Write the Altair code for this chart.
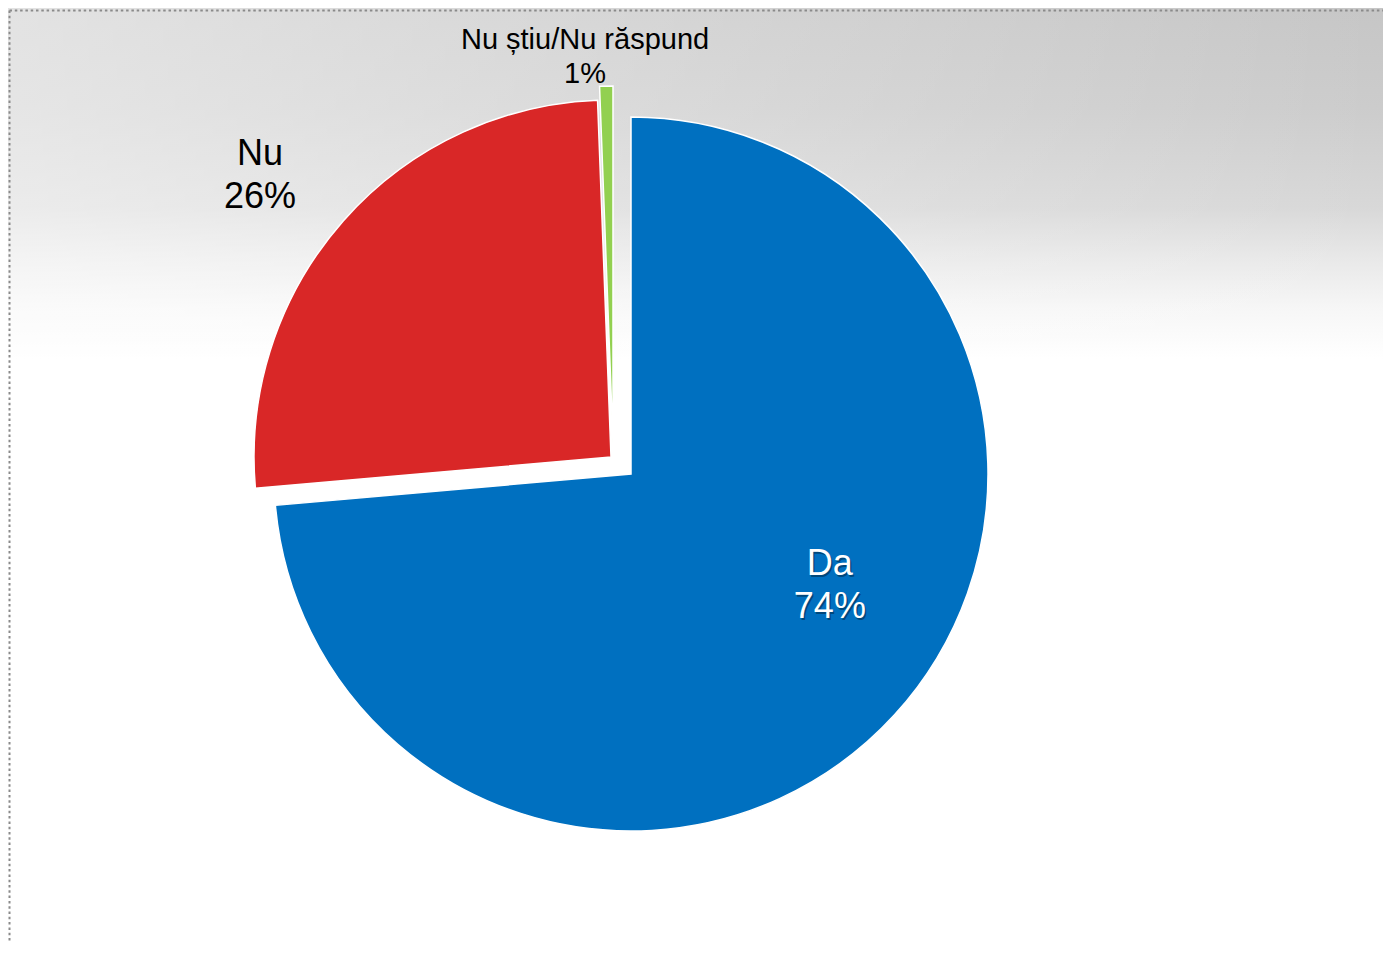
import altair as alt
import pandas as pd

# ---- data ----
categories = ["Da", "Nu", "Nu știu/Nu răspund"]
values = [73.6, 25.8, 0.6]
order = [0, 1, 2]
slice_colors = ["#0070C0", "#D92727", "#92D050"]

df = pd.DataFrame({"cat": categories, "value": values, "order": order})

# ---- layout / style constants ----
W, H = 1375, 935
CX, CY = 623, 466
R = 357
# explosion offsets of each slice (pixels)
EXPLODE_DX = {"Da": 0, "Nu": -20, "Nu știu/Nu răspund": -18}
EXPLODE_DY = {"Da": 0, "Nu": -17, "Nu știu/Nu răspund": -31}
# label placement: (angle offset from slice middle in degrees, distance from pie centre)
LABEL_ANGLE = {"Da": -13.2, "Nu": -2.6, "Nu știu/Nu răspund": -5.2}
LABEL_DIST = {"Da": 228, "Nu": 476, "Nu știu/Nu răspund": 420}
FONT = "Liberation Sans"


def case(d):
    expr = "0"
    for k, v in d.items():
        expr = f"datum.cat === '{k}' ? {v} : ({expr})"
    return expr


base = (
    alt.Chart(df)
    .transform_joinaggregate(total="sum(value)")
    .transform_window(cum="sum(value)", sort=[alt.SortField("order")], frame=[None, 0])
    .transform_calculate(
        t1="2*PI*datum.cum/datum.total",
        t0="2*PI*(datum.cum-datum.value)/datum.total",
    )
    .transform_calculate(
        mid="(datum.t0+datum.t1)/2",
        exx=case(EXPLODE_DX),
        exy=case(EXPLODE_DY),
        la=case(LABEL_ANGLE),
        lr=case(LABEL_DIST),
    )
    .transform_calculate(
        px=f"{CX}+datum.exx",
        py=f"{CY}+datum.exy",
        lx=f"{CX}+datum.lr*sin(datum.mid+datum.la*PI/180)",
        ly=f"{CY}-datum.lr*cos(datum.mid+datum.la*PI/180)",
        label="datum.cat + '\\n' + format(datum.value, '.0f') + '%'",
    )
)

# ---- background ----
bgdata = alt.Chart(pd.DataFrame({"a": [0]}))
vgrad = alt.LinearGradient(
    gradient="linear",
    x1=0, y1=0, x2=0, y2=1,
    stops=[
        alt.GradientStop(color="#c6c6c6", offset=0),
        alt.GradientStop(color="#cccccc", offset=0.107),
        alt.GradientStop(color="#d8d8d8", offset=0.214),
        alt.GradientStop(color="#e8e8e8", offset=0.267),
        alt.GradientStop(color="#f6f6f6", offset=0.32),
        alt.GradientStop(color="#ffffff", offset=0.375),
        alt.GradientStop(color="#ffffff", offset=1),
    ],
)
hgrad = alt.LinearGradient(
    gradient="linear",
    x1=0, y1=0, x2=1, y2=0,
    stops=[
        alt.GradientStop(color="rgba(255,255,255,0.5)", offset=0),
        alt.GradientStop(color="rgba(255,255,255,0)", offset=1),
    ],
)
bg1 = bgdata.mark_rect(color=vgrad).encode(
    x=alt.value(0), x2=alt.value(W), y=alt.value(0), y2=alt.value(H)
)
bg2 = bgdata.mark_rect(color=hgrad).encode(
    x=alt.value(0), x2=alt.value(W), y=alt.value(0), y2=alt.value(H)
)
frame_top = bgdata.mark_rule(color="#8a8a8a", strokeWidth=2, strokeDash=[2.5, 2.8]).encode(
    x=alt.value(1.5), x2=alt.value(W), y=alt.value(2.5)
)
frame_left = bgdata.mark_rule(color="#8a8a8a", strokeWidth=2, strokeDash=[2.5, 2.8]).encode(
    x=alt.value(1.5), y=alt.value(2.5), y2=alt.value(H)
)

# ---- pie ----
pie = base.mark_arc(radius=R, stroke="white", strokeWidth=1.5).encode(
    x=alt.X("px:Q", scale=None),
    y=alt.Y("py:Q", scale=None),
    theta=alt.Theta("t0:Q", scale=None, stack=None),
    theta2="t1:Q",
    color=alt.Color("cat:N", scale=alt.Scale(domain=categories, range=slice_colors), legend=None),
)

# ---- labels ----
big = base.transform_filter("datum.cat !== 'Nu știu/Nu răspund'")
shadow = big.transform_filter("datum.cat === 'Da'").mark_text(
    font=FONT, fontSize=36, lineHeight=43, lineBreak="\n", align="center",
    baseline="middle", dx=1.5, dy=-20, color="black", opacity=0.35,
).encode(x=alt.X("lx:Q", scale=None), y=alt.Y("ly:Q", scale=None), text="label:N")

big_text = big.mark_text(
    font=FONT, fontSize=36, lineHeight=43, lineBreak="\n", align="center", baseline="middle",
    dy=-21.5,
).encode(
    x=alt.X("lx:Q", scale=None),
    y=alt.Y("ly:Q", scale=None),
    text="label:N",
    color=alt.condition("datum.cat === 'Da'", alt.value("white"), alt.value("black")),
)

small_text = base.transform_filter("datum.cat === 'Nu știu/Nu răspund'").mark_text(
    font=FONT, fontSize=29, lineHeight=34, lineBreak="\n", align="center",
    baseline="middle", color="black", dy=-16.5,
).encode(x=alt.X("lx:Q", scale=None), y=alt.Y("ly:Q", scale=None), text="label:N")

chart = (
    alt.layer(bg1, bg2, frame_top, frame_left, pie, shadow, big_text, small_text)
    .properties(
        width=W,
        height=H,
        padding=0,
        autosize=alt.AutoSizeParams(type="fit", contains="padding"),
    )
    .configure_view(strokeOpacity=0)
)

chart.save("out.html", embed_options={"renderer": "svg", "actions": False})
